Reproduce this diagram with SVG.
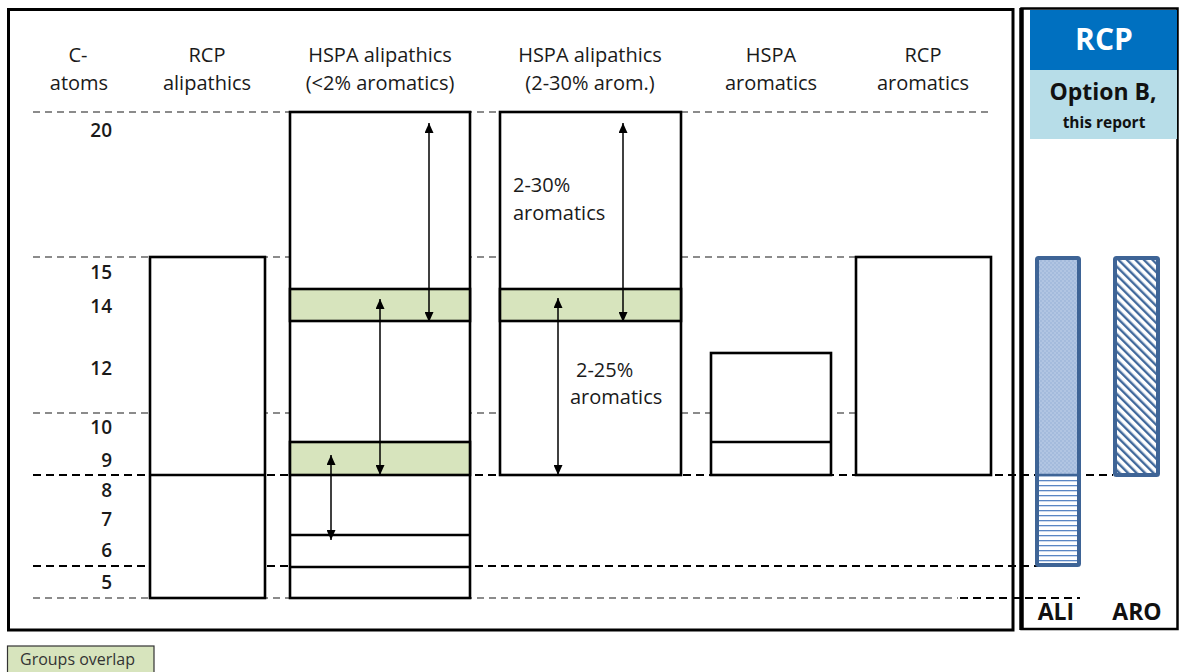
<svg xmlns="http://www.w3.org/2000/svg" width="1179" height="672" viewBox="0 0 1179 672">
<style>
  .hdr{font-family:"Open Sans","Liberation Sans",sans-serif;font-size:20px;fill:#1a1a1a;text-anchor:middle}
  .num{font-family:"Open Sans","Liberation Sans",sans-serif;font-size:19px;font-weight:600;fill:#1a1a1a;text-anchor:end}
  .lbl{font-family:"Open Sans","Liberation Sans",sans-serif;font-size:20px;fill:#1a1a1a}
  .box{fill:#ffffff;stroke:#000;stroke-width:2.6}
  .ln{stroke:#000;stroke-width:2.6;fill:none}
  .band{fill:#d7e4bd;stroke:#000;stroke-width:2.6}
  .gdash{stroke:#666;stroke-width:1.6;stroke-dasharray:7 5;fill:none}
  .bdash{stroke:#000;stroke-width:2;stroke-dasharray:8 5;fill:none}
  .arr{stroke:#000;stroke-width:1.5;fill:none;marker-start:url(#ah);marker-end:url(#ah)}
  .bar{stroke:#3e6496;stroke-width:4;fill:none}
  .bold{font-family:"Open Sans","Liberation Sans",sans-serif;font-weight:700;text-anchor:middle}
</style>
<defs>
  <marker id="ah" viewBox="0 0 10 9" markerWidth="10" markerHeight="9" refX="10" refY="4.5" orient="auto-start-reverse" markerUnits="userSpaceOnUse">
    <path d="M0,0 L10,4.5 L0,9 z" fill="#000"/>
  </marker>
  <pattern id="dots" x="0" y="0" width="4" height="4" patternUnits="userSpaceOnUse">
    <rect width="4" height="4" fill="#b1c5e2"/>
    <circle cx="1" cy="1" r="0.7" fill="#8ea9d3"/>
    <circle cx="3" cy="3" r="0.7" fill="#8ea9d3"/>
  </pattern>
  <pattern id="hlines" width="6" height="5" patternUnits="userSpaceOnUse">
    <rect width="6" height="5" fill="#ffffff"/>
    <rect y="0" width="6" height="1.3" fill="#5a86c4"/>
  </pattern>
  <pattern id="diag" width="6" height="6" patternUnits="userSpaceOnUse" patternTransform="rotate(-45)">
    <rect width="6" height="6" fill="#ffffff"/>
    <rect x="0" width="2.4" height="6" fill="#41699c"/>
  </pattern>
</defs>

<rect width="1179" height="672" fill="#ffffff"/>

<!-- frames -->
<g id="frames">
  <rect x="8.5" y="9.5" width="1004.5" height="620.5" fill="none" stroke="#000" stroke-width="3"/>
  <rect x="1021.5" y="8.5" width="156" height="620.5" fill="none" stroke="#000" stroke-width="2.5"/>
  <line x1="1021.5" y1="8" x2="1021.5" y2="630" stroke="#000" stroke-width="4.5"/>
</g>

<!-- headers -->
<g id="headers">
  <text class="hdr" x="78" y="62">C-</text>
  <text class="hdr" x="79" y="90">atoms</text>
  <text class="hdr" x="207" y="62">RCP</text>
  <text class="hdr" x="207" y="90">alipathics</text>
  <text class="hdr" x="380" y="62">HSPA alipathics</text>
  <text class="hdr" x="380" y="90">(&lt;2% aromatics)</text>
  <text class="hdr" x="590" y="62">HSPA alipathics</text>
  <text class="hdr" x="590" y="90">(2-30% arom.)</text>
  <text class="hdr" x="771" y="62">HSPA</text>
  <text class="hdr" x="771" y="90">aromatics</text>
  <text class="hdr" x="923" y="62">RCP</text>
  <text class="hdr" x="923" y="90">aromatics</text>
</g>

<!-- axis numbers -->
<g id="axis">
  <text class="num" x="112" y="137">20</text>
  <text class="num" x="112" y="279">15</text>
  <text class="num" x="112" y="313">14</text>
  <text class="num" x="112" y="375">12</text>
  <text class="num" x="112" y="434">10</text>
  <text class="num" x="112" y="467">9</text>
  <text class="num" x="112" y="497">8</text>
  <text class="num" x="112" y="526">7</text>
  <text class="num" x="112" y="557">6</text>
  <text class="num" x="112" y="589">5</text>
</g>

<!-- grid dashed lines -->
<g id="gridlines">
  <line class="gdash" x1="33" y1="112" x2="992" y2="112"/>
  <line class="gdash" x1="33" y1="257" x2="992" y2="257"/>
  <line class="gdash" x1="33" y1="413" x2="992" y2="413"/>
  <line class="gdash" x1="33" y1="598" x2="958" y2="598"/>
  <line class="bdash" x1="960" y1="598" x2="1080" y2="598"/>
  <line class="bdash" x1="33" y1="566" x2="1078" y2="566"/>
</g>

<!-- columns -->
<g id="rcp-alipathics">
  <rect class="box" x="150" y="257" width="115" height="341"/>
  <line class="ln" x1="150" y1="475" x2="265" y2="475"/>
</g>

<g id="hspa-ali-lt2">
  <rect class="box" x="290" y="112" width="180" height="486"/>
  <rect class="band" x="290" y="289" width="180" height="32"/>
  <rect class="band" x="290" y="442" width="180" height="33"/>
  <line class="ln" x1="290" y1="535" x2="470" y2="535"/>
  <line class="ln" x1="290" y1="567" x2="470" y2="567"/>
</g>

<g id="hspa-ali-2-30">
  <rect class="box" x="500" y="112" width="181" height="363"/>
  <rect class="band" x="500" y="289" width="181" height="32"/>
  <text class="lbl" x="513" y="192">2-30%</text>
  <text class="lbl" x="513" y="220">aromatics</text>
  <text class="lbl" x="576" y="377">2-25%</text>
  <text class="lbl" x="570" y="404">aromatics</text>
</g>

<g id="hspa-aromatics">
  <rect class="box" x="711" y="353" width="120" height="122"/>
  <line class="ln" x1="711" y1="442" x2="831" y2="442"/>
</g>

<g id="rcp-aromatics">
  <rect class="box" x="856" y="257" width="135" height="218"/>
</g>

<!-- black dashed line at 8 carbons drawn over boxes -->
<g id="gridline-8">
  <line class="bdash" x1="33" y1="475" x2="1113" y2="475"/>
</g>

<!-- connectors -->
<g id="connectors">
  <line class="arr" x1="429" y1="123" x2="429" y2="322"/>
  <line class="arr" x1="380" y1="299" x2="380" y2="475"/>
  <line class="arr" x1="331" y1="455" x2="331" y2="540"/>
  <line class="arr" x1="623" y1="123" x2="623" y2="322"/>
  <line class="arr" x1="558" y1="298" x2="558" y2="475"/>
</g>

<!-- right panel -->
<g id="rcp-header">
  <rect x="1030" y="10" width="147" height="60" fill="#0070c0"/>
  <text class="bold" x="1104" y="50" font-size="30" fill="#ffffff">RCP</text>
</g>
<g id="option-b">
  <rect x="1030" y="70" width="147" height="69" fill="#b7dde8"/>
  <text class="bold" x="1103" y="100" font-size="23" fill="#111">Option B,</text>
  <text class="bold" x="1104" y="128" font-size="15.5" fill="#111">this report</text>
</g>

<g id="ali-bar">
  <rect x="1037" y="258" width="42" height="217" fill="url(#dots)"/>
  <rect x="1037" y="475" width="42" height="90" fill="url(#hlines)"/>
  <line x1="1037" y1="475" x2="1079" y2="475" stroke="#3e6496" stroke-width="2.5"/>
  <rect class="bar" x="1037" y="258" width="42" height="307" rx="1.5"/>
  <text class="bold" x="1056" y="620" font-size="23" fill="#111">ALI</text>
</g>

<g id="aro-bar">
  <rect x="1115" y="258" width="43" height="217" fill="url(#diag)"/>
  <rect class="bar" x="1115" y="258" width="43" height="217" rx="1.5"/>
  <text class="bold" x="1137" y="620" font-size="23" fill="#111">ARO</text>
</g>

<!-- legend -->
<g id="legend">
  <rect x="7.5" y="646" width="146.5" height="30" fill="#d7e4bd" stroke="#333" stroke-width="1.2"/>
  <text x="20" y="665" font-family="'Open Sans','Liberation Sans',sans-serif" font-size="16" fill="#333">Groups overlap</text>
</g>
</svg>
